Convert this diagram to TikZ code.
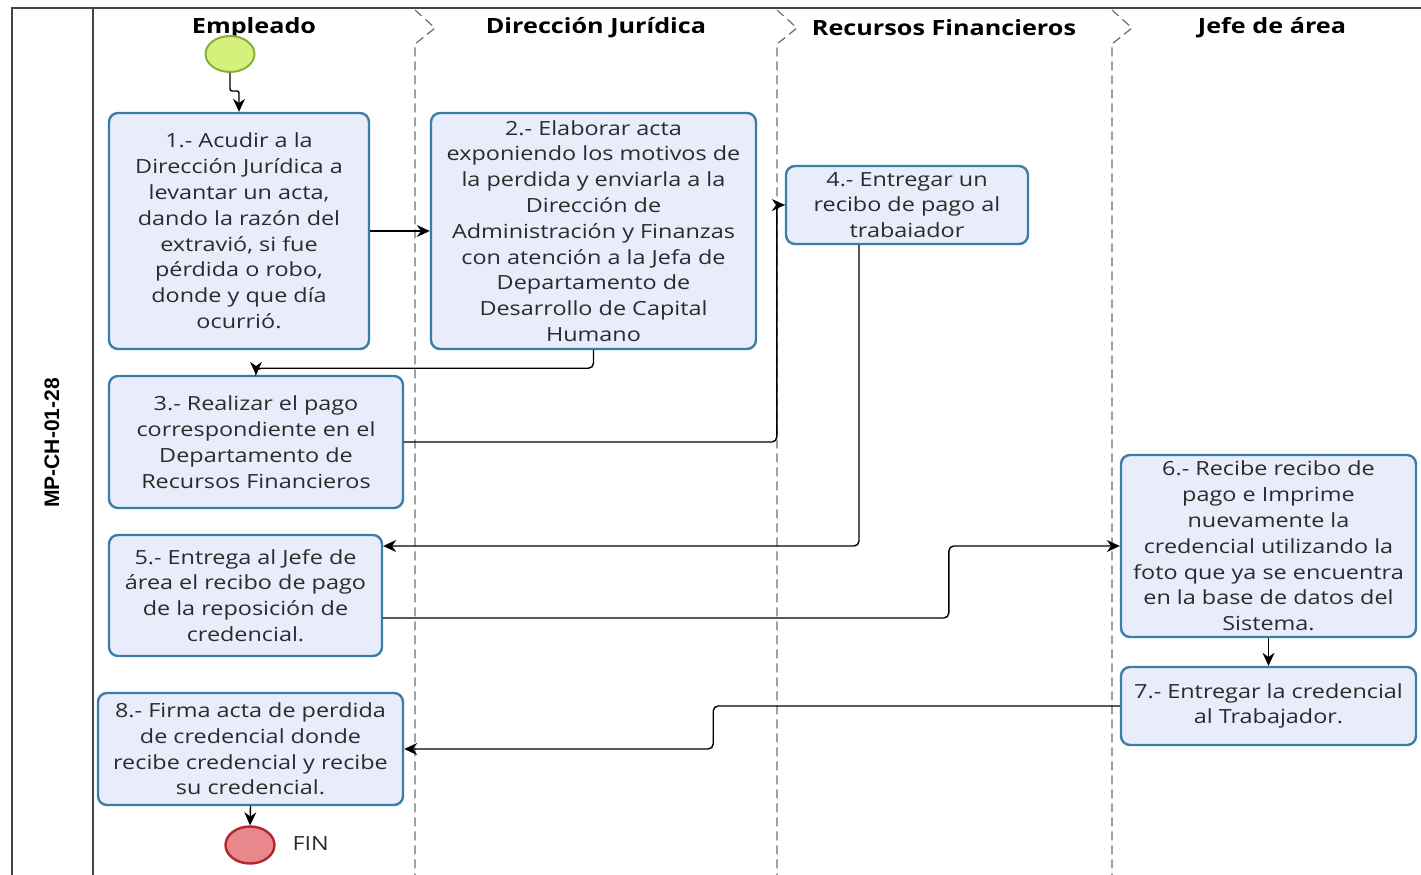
\documentclass[tikz,border=0pt]{standalone}
\usepackage{fontspec}
\setmainfont[FakeStretch=1.2]{Open Sans}
\newfontfamily\headfont[FakeStretch=1.2]{Open Sans}
\newfontfamily\poolfont{Liberation Sans}
\usetikzlibrary{arrows.meta,calc,shapes.geometric}
\definecolor{boxfill}{HTML}{E9EDFB}
\definecolor{boxline}{HTML}{3A7EA8}
\definecolor{startfill}{HTML}{D6F07C}
\definecolor{startline}{HTML}{86B03A}
\definecolor{endfill}{HTML}{E8878C}
\definecolor{endline}{HTML}{B3262E}
\definecolor{frame}{HTML}{444444}
\definecolor{sep}{HTML}{6E6E6E}
\definecolor{txt}{HTML}{2B2B2B}
\tikzset{
  stepbox/.style={draw=boxline, fill=boxfill, line width=2.4pt, rounded corners=9pt,
    align=center, inner sep=2pt, text=txt,
    font=\fontsize{19.5}{25.8}\selectfont},
  lanehead/.style={font=\headfont\fontsize{21}{24}\selectfont\bfseries, text=black},
  lanesep/.style={draw=sep, line width=1.2pt, dash pattern=on 9pt off 5pt},
  arr/.style={draw=black, line width=1.4pt, rounded corners=5pt, -{Stealth[length=13pt,width=12pt]}},
}
\begin{document}
\begin{tikzpicture}[x=1pt,y=-1pt]
\useasboundingbox (0,0) rectangle (1421,875);
% frame
\draw[frame, line width=2.2pt] (1421,8) -- (12,8) -- (12,875);
\draw[frame, line width=2.2pt] (93,8) -- (93,875);
\node[rotate=90, font=\poolfont\fontsize{21}{24}\selectfont\bfseries] (pool) at (52,443) {MP-CH-01-28};
% lane separators
\foreach \x in {415,777,1112}{
  \draw[lanesep] (\x,10) -- (\x+20,28) -- (\x,44) -- (\x,875);
}
\node[lanehead] (h1) at (254,28) {Empleado};
\node[lanehead] (h2) at (596,28) {Dirección Jurídica};
\node[lanehead] (h3) at (944,28) {Recursos Financieros};
\node[lanehead] (h4) at (1272,28) {Jefe de área};
% events
\node[ellipse, draw=startline, fill=startfill, line width=2pt, minimum width=49pt, minimum height=36pt, inner sep=0pt] (s) at (230,54) {};
\node[ellipse, draw=endline, fill=endfill, line width=2.4pt, minimum width=49pt, minimum height=37pt, inner sep=0pt] (e) at (250,845) {};
\node[font=\fontsize{19.5}{22}\selectfont, text=txt, anchor=west] (fin) at (289,844) {FIN};
% tasks
\node[stepbox, minimum width=260pt, minimum height=236pt] (b1) at (239,231)
 {1.- Acudir a la\\Dirección Jurídica a\\levantar un acta,\\dando la razón del\\extravió, si fue\\pérdida o robo,\\donde y que día\\ocurrió.};
\node[stepbox, minimum width=325pt, minimum height=236pt] (b2) at (593.5,231)
 {2.- Elaborar acta\\exponiendo los motivos de\\la perdida y enviarla a la\\Dirección de\\Administración y Finanzas\\con atención a la Jefa de\\Departamento de\\Desarrollo de Capital\\Humano};
\node[stepbox, minimum width=294pt, minimum height=132pt] (b3) at (256,442)
 {3.- Realizar el pago\\correspondiente en el\\Departamento de\\Recursos Financieros};
\node[stepbox, minimum width=242pt, minimum height=78pt] (b4) at (907,205)
 {4.- Entregar un\\recibo de pago al\\trabaiador};
\node[stepbox, minimum width=273pt, minimum height=121pt] (b5) at (245.5,595.5)
 {5.- Entrega al Jefe de\\área el recibo de pago\\de la reposición de\\credencial.};
\node[stepbox, minimum width=295pt, minimum height=182pt] (b6) at (1268.5,546)
 {6.- Recibe recibo de\\pago e Imprime\\nuevamente la\\credencial utilizando la\\foto que ya se encuentra\\en la base de datos del\\Sistema.};
\node[stepbox, minimum width=295pt, minimum height=78pt] (b7) at (1268.5,706)
 {7.- Entregar la credencial\\al Trabajador.};
\node[stepbox, minimum width=305pt, minimum height=112pt] (b8) at (250.5,749)
 {8.- Firma acta de perdida\\de credencial donde\\recibe credencial y recibe\\su credencial.};
% connectors
\draw[arr, rounded corners=2pt] (s.south) -- ++(0,18) -| (b1.north);
\draw[arr] (b1.east) -- (b2.west);
\draw[arr] (b2.south) -- ++(0,18) -| (b3.north);
\draw[arr] (b3.east) -| ($(b4.west)+(-8,0)$) -- (b4.west);
\draw[arr] ($(b4.south)+(-48,0)$) |- ($(b5.east)+(0,-49.5)$);
\draw[arr] ($(b5.east)+(0,22.5)$) -| ($(b6.west)+(-171,0)$) -- (b6.west);
\draw[arr] (b6.south) -- (b7.north);
\draw[arr] (b7.west) -| ($(b8.east)+(309,0)$) -- (b8.east);
\draw[arr] (b8.south) -- (e.north);
\end{tikzpicture}
\end{document}
